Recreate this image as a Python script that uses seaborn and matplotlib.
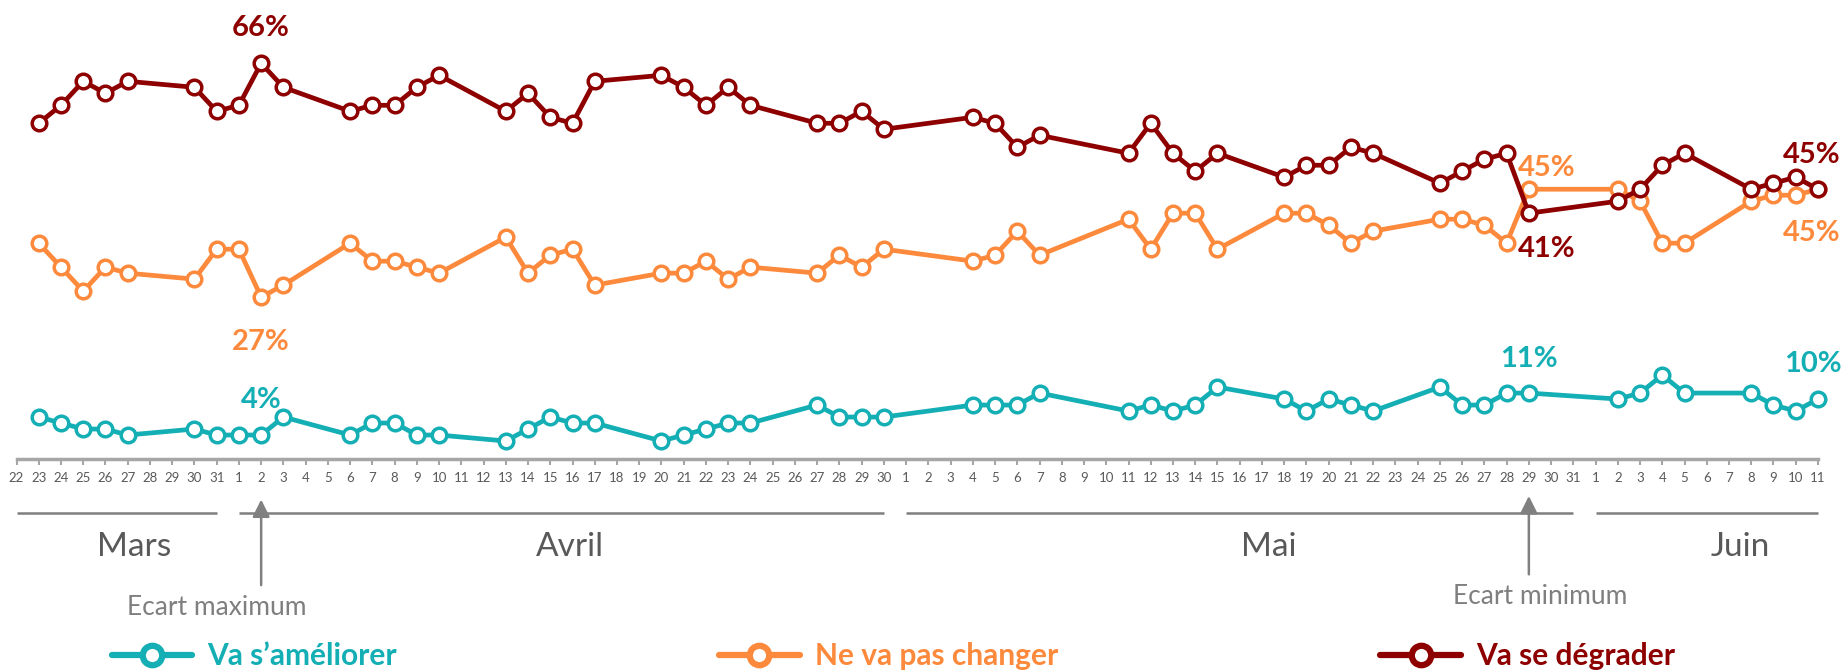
import numpy as np
import pandas as pd
import matplotlib.pyplot as plt
import seaborn as sns
from matplotlib.lines import Line2D

sns.set_style("white")
plt.rcParams['font.family'] = ['Lato', 'DejaVu Sans']

# survey dates
dates = ["2020-03-23", "2020-03-24", "2020-03-25", "2020-03-26", "2020-03-27", "2020-03-30", "2020-03-31",
         "2020-04-01", "2020-04-02", "2020-04-03", "2020-04-06", "2020-04-07", "2020-04-08", "2020-04-09",
         "2020-04-10", "2020-04-13", "2020-04-14", "2020-04-15", "2020-04-16", "2020-04-17", "2020-04-20",
         "2020-04-21", "2020-04-22", "2020-04-23", "2020-04-24", "2020-04-27", "2020-04-28", "2020-04-29",
         "2020-04-30", "2020-05-04", "2020-05-05", "2020-05-06", "2020-05-07", "2020-05-11", "2020-05-12",
         "2020-05-13", "2020-05-14", "2020-05-15", "2020-05-18", "2020-05-19", "2020-05-20", "2020-05-21",
         "2020-05-22", "2020-05-25", "2020-05-26", "2020-05-27", "2020-05-28", "2020-05-29", "2020-06-02",
         "2020-06-03", "2020-06-04", "2020-06-05", "2020-06-08", "2020-06-09", "2020-06-10", "2020-06-11"]

# % of answers
ameliorer = [7, 6, 5, 5, 4, 5, 4,
             4, 4, 7, 4, 6, 6, 4, 4, 3, 5, 7, 6, 6, 3, 4, 5, 6, 6, 9, 7, 7, 7,
             9, 9, 9, 11, 8, 9, 8, 9, 12, 10, 8, 10, 9, 8, 12, 9, 9, 11, 11,
             10, 11, 14, 11, 11, 9, 8, 10]
pas_changer = [36, 32, 28, 32, 31, 30, 35,
               35, 27, 29, 36, 33, 33, 32, 31, 37, 31, 34, 35, 29, 31, 31, 33, 30, 32, 31, 34, 32, 35,
               33, 34, 38, 34, 40, 35, 41, 41, 35, 41, 41, 39, 36, 38, 40, 40, 39, 36, 45,
               45, 43, 36, 36, 43, 44, 44, 45]
degrader = [56, 59, 63, 61, 63, 62, 58,
            59, 66, 62, 58, 59, 59, 62, 64, 58, 61, 57, 56, 63, 64, 62, 59, 62, 59, 56, 56, 58, 55,
            57, 56, 52, 54, 51, 56, 51, 48, 51, 47, 49, 49, 52, 51, 46, 48, 50, 51, 41,
            43, 45, 49, 51, 45, 46, 47, 45]

series = ["Va s’améliorer", "Ne va pas changer", "Va se dégrader"]
colors = ["#14AEB5", "#FD8A3C", "#8E0000"]
months = ["Mars", "Avril", "Mai", "Juin"]
labelled_dates = ["2020-04-02", "2020-05-29", "2020-06-11"]

days = pd.date_range("2020-03-22", "2020-06-11")

df = pd.DataFrame({"date": pd.to_datetime(dates),
                   series[0]: ameliorer, series[1]: pas_changer, series[2]: degrader})
df["jour"] = (df["date"] - days[0]).dt.days
long = df.melt(id_vars=["date", "jour"], value_vars=series, var_name="serie", value_name="pct")

fig = plt.figure(figsize=(18.44, 6.71), dpi=100)
ax = fig.add_axes([0, 0, 1, 1])

for name, col in zip(series, colors):
    sub = long[long["serie"] == name]
    sns.lineplot(data=sub, x="jour", y="pct", ax=ax, color=col, linewidth=3.4,
                 marker="o", markersize=10.5, markerfacecolor="white",
                 markeredgecolor=col, markeredgewidth=2.5, legend=False)

# value labels (max gap, min gap, last point)
offsets = {
    series[0]: [(0, 38), (0, 37), (-5, 38)],
    series[1]: [(0, -42), (18, 24), (-6, -41)],
    series[2]: [(0, 38), (18, -33), (-6, 37)],
}
for name, col in zip(series, colors):
    sub = long[long["serie"] == name].set_index("date")
    for d, off in zip(labelled_dates, offsets[name]):
        row = sub.loc[pd.Timestamp(d)]
        ax.annotate(f"{row['pct']}%", xy=(row["jour"], row["pct"]), xytext=off,
                    textcoords="offset pixels", ha="center", va="center_baseline",
                    color=col, fontsize=21, fontweight="bold", zorder=5)

ax.set_xlim(-0.742, 82.17)
ax.set_ylim(-35.36, 76.56)
ax.set_xlabel("")
ax.set_ylabel("")
ax.set_yticks([])
ax.set_xticks(range(len(days)))
ax.set_xticklabels([str(d.day) for d in days])
for s in ["left", "right", "top"]:
    ax.spines[s].set_visible(False)
ax.spines["bottom"].set_position(("data", 0))
ax.spines["bottom"].set_bounds(0, len(days) - 1)
ax.spines["bottom"].set_color("#A6A6A6")
ax.spines["bottom"].set_linewidth(2.5)
ax.tick_params(axis="x", bottom=True, length=4, width=1.5, color="#A6A6A6",
               pad=5, labelsize=9.5, labelcolor="#595959")

# month brackets
label_shift = [0.8, 0.4, 1.3, 1.5]
for m, lab, sh in zip([3, 4, 5, 6], months, label_shift):
    idx = np.where(days.month == m)[0]
    ax.hlines(-8.96, idx[0], idx[-1], color="#7F7F7F", lw=1.8)
    ax.text((idx[0] + idx[-1]) / 2 + sh, -14.7, lab, ha="center", va="center",
            fontsize=24, color="#595959")

# gap arrows
for d, txt, dx, y0, y1, ty in [("2020-04-02", "Ecart maximum", -2.0, -21.5, -6.3, -24.7),
                               ("2020-05-29", "Ecart minimum", 0.5, -19.7, -5.7, -23.0)]:
    x = (pd.Timestamp(d) - days[0]).days
    ax.annotate("", xy=(x, y1), xytext=(x, y0),
                arrowprops=dict(arrowstyle="-|>", color="#808080", lw=1.8, mutation_scale=26))
    ax.text(x + dx, ty, txt, ha="center", va="center", fontsize=19, color="#7F7F7F")

handles = [Line2D([], [], color=c, lw=4.5, marker="o", markersize=14,
                  markerfacecolor="white", markeredgecolor=c, markeredgewidth=4.5) for c in colors]
ax.legend(handles, series, loc="center left", bbox_to_anchor=(111.5 / 1844, 1 - 656 / 671),
          bbox_transform=fig.transFigure, ncol=3, frameon=False,
          prop={"weight": "bold", "size": 21.5}, labelcolor="linecolor",
          handlelength=2.7, handletextpad=0.5, columnspacing=10.8,
          borderpad=0, borderaxespad=0)

fig.savefig("out.png", dpi=100)
